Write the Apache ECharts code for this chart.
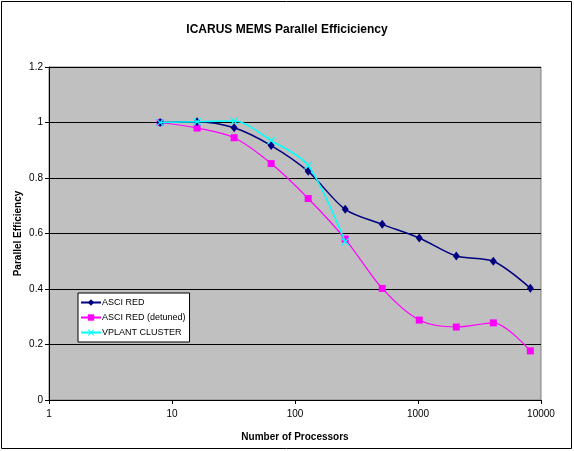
<!DOCTYPE html>
<html><head><meta charset="utf-8">
<script src="https://cdn.jsdelivr.net/npm/echarts@6/dist/echarts.min.js"></script>
<style>html,body{margin:0;padding:0;background:#fff}#c{width:574px;height:451px}</style>
</head><body><div id="c"></div>
<script>
const processors = [8, 16, 32, 64, 128, 256, 512, 1024, 2048, 4096, 8192];
const asciRed = [1.0, 1.003, 0.981, 0.917, 0.824, 0.687, 0.633, 0.584, 0.519, 0.50, 0.403];
const asciRedDetuned = [1.0, 0.98, 0.945, 0.852, 0.726, 0.58, 0.402, 0.288, 0.263, 0.278, 0.177];
const vplantProcs = [8, 16, 32, 64, 128, 256];
const vplant = [1.0, 1.003, 1.005, 0.935, 0.845, 0.57];
const yTicks = [0, 0.2, 0.4, 0.6, 0.8, 1, 1.2];
const xTicks = [1, 10, 100, 1000, 10000];

const font = 'Liberation Sans, Arial, sans-serif';
const xSym = 'path://M0,1 L1,0 L5,4 L9,0 L10,1 L6,5 L10,9 L9,10 L5,6 L1,10 L0,9 L4,5 Z';
const pair = (xs, ys) => xs.map((x, i) => [x, ys[i]]);

const chart = echarts.init(document.getElementById('c'));
chart.setOption({
  animation: false,
  backgroundColor: '#fff',
  title: {
    text: 'ICARUS MEMS Parallel Efficiciency',
    left: 'center', top: 19,
    textStyle: { fontFamily: font, fontSize: 12, fontWeight: 'bold', color: '#000' }
  },
  grid: {
    left: 49, right: 33, top: 67, bottom: 51,
    show: true, backgroundColor: '#c0c0c0', borderColor: '#808080', borderWidth: 1
  },
  legend: {
    orient: 'vertical', left: 78, top: 293,
    backgroundColor: '#fff', borderColor: '#000', borderWidth: 1,
    padding: [5, 4, 5, 2], itemGap: 6, itemWidth: 20, itemHeight: 8,
    textStyle: { fontFamily: font, fontSize: 9, color: '#000', padding: [0, 0, 0, -4] },
    data: ['ASCI RED', 'ASCI RED (detuned)', 'VPLANT CLUSTER']
  },
  xAxis: {
    type: 'log', logBase: 10, min: 1, max: 10000,
    name: 'Number of Processors', nameLocation: 'middle', nameGap: 32,
    nameTextStyle: { fontFamily: font, fontSize: 10, fontWeight: 'bold', color: '#000' },
    axisLine: { lineStyle: { color: '#000', width: 1 } },
    axisTick: { show: true, inside: false, length: 4, lineStyle: { color: '#000' } },
    axisLabel: { fontFamily: font, fontSize: 10, color: '#000', margin: 9,
      formatter: v => xTicks.indexOf(Math.round(v)) >= 0 ? String(Math.round(v)) : '' },
    splitLine: { show: false }, minorTick: { show: false }
  },
  yAxis: {
    type: 'value', min: 0, max: 1.2, interval: 0.2,
    name: 'Parallel Efficiency', nameLocation: 'middle', nameGap: 26, nameMoveOverlap: false,
    nameTextStyle: { fontFamily: font, fontSize: 10, fontWeight: 'bold', color: '#000' },
    axisLine: { show: true, lineStyle: { color: '#000', width: 1 } },
    axisTick: { show: true, inside: false, length: 4, lineStyle: { color: '#000' } },
    axisLabel: { fontFamily: font, fontSize: 10, color: '#000', margin: 6,
      formatter: v => { const t = yTicks.find(a => Math.abs(a - v) < 1e-6); return t === undefined ? '' : String(t); } },
    splitLine: { show: true, lineStyle: { color: '#000', width: 1 } }
  },
  series: [
    { name: 'ASCI RED', type: 'line', smooth: 0.3, data: pair(processors, asciRed),
      symbol: 'diamond', symbolSize: [7, 9], color: '#000080',
      lineStyle: { color: '#000080', width: 1.5 }, itemStyle: { color: '#000080' }, z: 3 },
    { name: 'ASCI RED (detuned)', type: 'line', smooth: 0.3, data: pair(processors, asciRedDetuned),
      symbol: 'rect', symbolSize: 7, color: '#ff00ff',
      lineStyle: { color: '#ff00ff', width: 1.2 }, itemStyle: { color: '#ff00ff' }, z: 2 },
    { name: 'VPLANT CLUSTER', type: 'line', smooth: 0.3, data: pair(vplantProcs, vplant),
      symbol: xSym, symbolSize: 8, color: '#00ffff',
      lineStyle: { color: '#00ffff', width: 1.5 }, itemStyle: { color: '#00ffff' }, z: 4 }
  ],
  graphic: [{
    type: 'rect', shape: { x: 1.5, y: 1.5, width: 570, height: 447 },
    style: { fill: 'none', stroke: '#000', lineWidth: 1 }, silent: true, z: -1
  }]
});
</script>
</body></html>
